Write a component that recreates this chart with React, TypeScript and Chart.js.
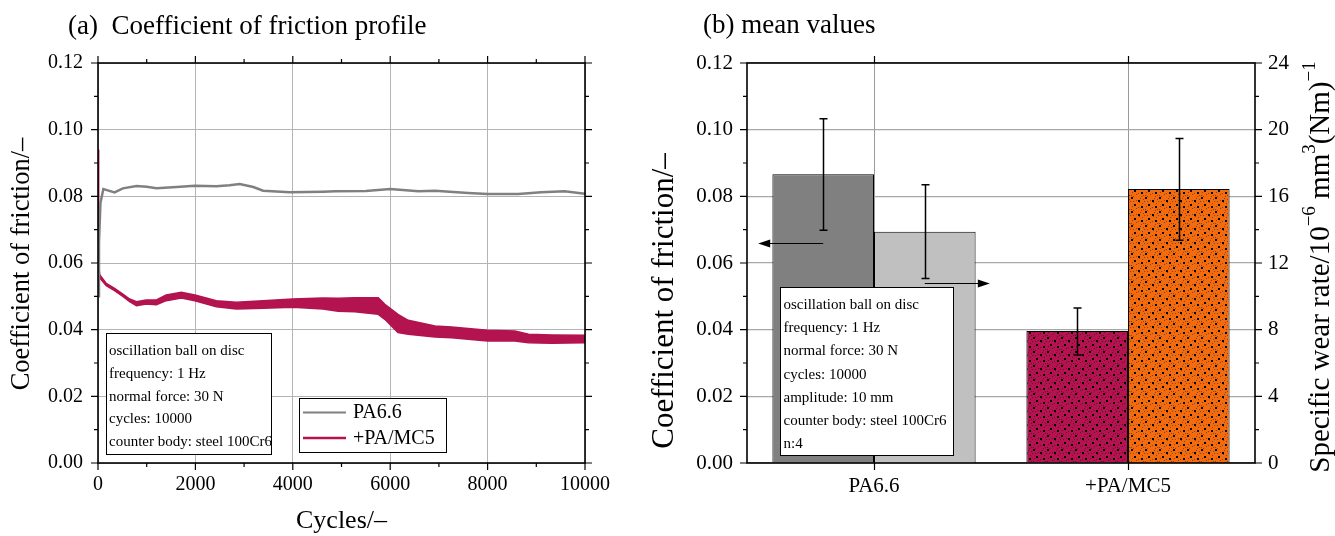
import React, { useEffect, useRef } from "react";
import { Chart, registerables } from "chart.js";

Chart.register(...registerables);

const SERIF = '"Liberation Serif", "Times New Roman", Times, serif';
const CRIMSON = "#b3134f";
const ORANGE = "#f26b0f";
const DARK_GRAY = "#808080";
const LIGHT_GRAY = "#c0c0c0";

// ---------- (a) Coefficient of friction profile ----------
const PA66_CYCLES = [0, 20, 50, 110, 200, 340, 510, 790, 1000, 1200, 1610, 1990, 2430, 2700, 2910, 3190, 3390, 3940, 4620, 4870, 5500, 6000, 6580, 6920, 7600, 8000, 8630, 9100, 9580, 10000];
const PA66_COF = [0.05, 0.066, 0.078, 0.0822, 0.0818, 0.0812, 0.0824, 0.0831, 0.0829, 0.0824, 0.0828, 0.0832, 0.083, 0.0833, 0.0837, 0.0828, 0.0817, 0.0812, 0.0814, 0.0815, 0.0816, 0.0822, 0.0815, 0.0817, 0.081, 0.0807, 0.0807, 0.0812, 0.0815, 0.0808];

const MC5_CYCLES = [0, 10, 35, 170, 340, 510, 650, 790, 990, 1200, 1400, 1710, 1990, 2430, 2840, 3390, 4000, 4620, 4930, 5275, 5755, 5890, 6160, 6370, 6920, 7260, 8000, 8560, 8840, 9320, 10000];
const MC5_COF_UPPER = [0.094, 0.06, 0.0565, 0.0539, 0.0524, 0.0507, 0.0492, 0.0484, 0.0489, 0.0489, 0.0504, 0.0512, 0.0504, 0.0487, 0.0482, 0.0487, 0.0492, 0.0495, 0.0494, 0.0496, 0.0496, 0.0476, 0.0446, 0.0428, 0.0411, 0.0408, 0.0398, 0.0396, 0.0386, 0.0384, 0.0383];
const MC5_COF_LOWER = [0.094, 0.059, 0.0555, 0.0532, 0.0517, 0.05, 0.0484, 0.0472, 0.0477, 0.0475, 0.0487, 0.0495, 0.0487, 0.0469, 0.0462, 0.0464, 0.0467, 0.0462, 0.0455, 0.0454, 0.0446, 0.0431, 0.0391, 0.0386, 0.0378, 0.0376, 0.0366, 0.0366, 0.0361, 0.0359, 0.0361];

const CYCLE_TICKS = [0, 2000, 4000, 6000, 8000, 10000];
const COF_TICKS = [0, 0.02, 0.04, 0.06, 0.08, 0.1, 0.12];
const SERIES_NAMES = ["PA6.6", "+PA/MC5"];

const INFO_A = ["oscillation ball on disc", "frequency: 1 Hz", "normal force: 30 N", "cycles: 10000", "counter body: steel 100Cr6"];

// ---------- (b) mean values ----------
const MATERIALS = ["PA6.6", "+PA/MC5"];
const COF_MEAN = [0.0866, 0.0396];
const COF_LOW = [0.0698, 0.0324];
const COF_HIGH = [0.1033, 0.0465];
const WEAR_MEAN = [13.88, 16.44];
const WEAR_LOW = [11.07, 13.36];
const WEAR_HIGH = [16.7, 19.47];
const WEAR_TICKS = [0, 4, 8, 12, 16, 20, 24];
const ARROW_COF_AT = 0.066;
const ARROW_WEAR_AT = 10.8;

const INFO_B = ["oscillation ball on disc", "frequency: 1 Hz", "normal force: 30 N", "cycles: 10000", "amplitude: 10 mm", "counter body: steel 100Cr6", "n:4"];

function makePattern(ctx: CanvasRenderingContext2D, base: string) {
  const c = document.createElement("canvas");
  c.width = 14;
  c.height = 14;
  const g = c.getContext("2d")!;
  g.fillStyle = base;
  g.fillRect(0, 0, 14, 14);
  g.fillStyle = "rgba(0,0,0,0.4)";
  const speck = [[3, 0], [10, 2], [0, 5], [6, 4], [12, 7], [2, 10], [8, 11], [5, 8], [13, 13], [9, 6], [1, 13], [11, 0], [6, 12], [13, 3], [3, 5]];
  speck.forEach(([x, y]) => g.fillRect(x, y, 1, 1));
  g.fillStyle = "#000";
  [[1, 1], [8, 4], [4, 8], [11, 10]].forEach(([x, y]) => g.fillRect(x, y, 2, 2));
  return ctx.createPattern(c, "repeat")!;
}

function rotatedText(ctx: CanvasRenderingContext2D, text: string, x: number, y: number, font: string) {
  ctx.save();
  ctx.translate(x, y);
  ctx.rotate(-Math.PI / 2);
  ctx.font = font;
  ctx.textAlign = "center";
  ctx.textBaseline = "middle";
  ctx.fillText(text, 0, 0);
  ctx.restore();
}

function rotatedRich(ctx: CanvasRenderingContext2D, segs: [string, boolean][], x: number, y: number, size: number) {
  const big = `${size}px ${SERIF}`;
  const small = `${Math.round(size * 0.66)}px ${SERIF}`;
  ctx.save();
  ctx.translate(x, y);
  ctx.rotate(-Math.PI / 2);
  ctx.textBaseline = "middle";
  ctx.textAlign = "left";
  let total = 0;
  segs.forEach(([t, sup]) => {
    ctx.font = sup ? small : big;
    total += ctx.measureText(t).width;
  });
  let cx = -total / 2;
  segs.forEach(([t, sup]) => {
    ctx.font = sup ? small : big;
    ctx.fillText(t, cx, sup ? -size * 0.38 : 0);
    cx += ctx.measureText(t).width;
  });
  ctx.restore();
}

function drawArrow(ctx: CanvasRenderingContext2D, x1: number, x2: number, y: number) {
  const dir = x2 > x1 ? 1 : -1;
  ctx.beginPath();
  ctx.moveTo(x1, y);
  ctx.lineTo(x2 - dir * 8, y);
  ctx.stroke();
  ctx.beginPath();
  ctx.moveTo(x2, y);
  ctx.lineTo(x2 - dir * 12, y - 4);
  ctx.lineTo(x2 - dir * 12, y + 4);
  ctx.closePath();
  ctx.fill();
}

function ProfileChart() {
  const ref = useRef<HTMLCanvasElement>(null);
  useEffect(() => {
    const canvas = ref.current!;
    const pts = (xs: number[], ys: number[]) => xs.map((x, i) => ({ x, y: ys[i] }));
    const decor = {
      id: "decorA",
      afterDraw(chart: any) {
        const { ctx, chartArea: a, scales } = chart;
        const xs = scales.x;
        const ys = scales.y;
        ctx.save();
        ctx.strokeStyle = "#000";
        ctx.fillStyle = "#000";
        ctx.lineWidth = 1.2;
        ctx.beginPath();
        for (let i = 0; i <= 12; i++) {
          const y = ys.getPixelForValue(i * 0.01);
          const len = i % 2 === 0 ? 7 : 4;
          ctx.moveTo(a.left - len, y);
          ctx.lineTo(a.left, y);
          ctx.moveTo(a.right, y);
          ctx.lineTo(a.right + len, y);
        }
        for (let i = 0; i <= 10; i++) {
          const x = xs.getPixelForValue(i * 1000);
          const len = i % 2 === 0 ? 7 : 4;
          ctx.moveTo(x, a.bottom);
          ctx.lineTo(x, a.bottom + len);
          ctx.moveTo(x, a.top - len);
          ctx.lineTo(x, a.top);
        }
        ctx.stroke();
        ctx.lineWidth = 1.6;
        ctx.strokeRect(a.left, a.top, a.right - a.left, a.bottom - a.top);

        // info box
        ctx.lineWidth = 1;
        ctx.fillStyle = "#fff";
        ctx.fillRect(106, 333, 165, 121);
        ctx.strokeRect(106.5, 333.5, 165, 121);
        ctx.fillStyle = "#000";
        ctx.font = `15px ${SERIF}`;
        ctx.textAlign = "left";
        ctx.textBaseline = "middle";
        INFO_A.forEach((t, i) => ctx.fillText(t, 109, 351 + i * 22.8));

        // legend
        ctx.fillStyle = "#fff";
        ctx.fillRect(299, 398, 147, 54);
        ctx.strokeRect(299.5, 398.5, 147, 54);
        ctx.lineWidth = 2;
        ctx.strokeStyle = DARK_GRAY;
        ctx.beginPath();
        ctx.moveTo(303, 412.5);
        ctx.lineTo(346, 412.5);
        ctx.stroke();
        ctx.lineWidth = 2.5;
        ctx.strokeStyle = CRIMSON;
        ctx.beginPath();
        ctx.moveTo(303, 438);
        ctx.lineTo(346, 438);
        ctx.stroke();
        ctx.fillStyle = "#000";
        ctx.font = `20px ${SERIF}`;
        ctx.fillText(SERIES_NAMES[0], 353, 413);
        ctx.fillText(SERIES_NAMES[1], 353, 438.5);

        // titles
        ctx.font = `27px ${SERIF}`;
        ctx.fillText("(a)  Coefficient of friction profile", 68, 27);
        ctx.font = `26px ${SERIF}`;
        ctx.textAlign = "center";
        ctx.fillText("Cycles/\u2013", (a.left + a.right) / 2, 521);
        rotatedText(ctx, "Coefficient of friction/\u2013", 22, 264, `26.5px ${SERIF}`);
        ctx.restore();
      },
    };
    const chart = new Chart(canvas, {
      type: "line",
      data: {
        datasets: [
          {
            label: SERIES_NAMES[0],
            data: pts(PA66_CYCLES, PA66_COF),
            borderColor: DARK_GRAY,
            borderWidth: 2.5,
            pointRadius: 0,
            fill: false,
            tension: 0,
          },
          {
            label: SERIES_NAMES[1],
            data: pts(MC5_CYCLES, MC5_COF_UPPER),
            borderColor: CRIMSON,
            backgroundColor: CRIMSON,
            borderWidth: 1.5,
            pointRadius: 0,
            fill: "+1",
            tension: 0,
          },
          {
            label: SERIES_NAMES[1] + " lower",
            data: pts(MC5_CYCLES, MC5_COF_LOWER),
            borderColor: CRIMSON,
            borderWidth: 1.5,
            pointRadius: 0,
            fill: false,
            tension: 0,
          },
        ],
      },
      options: {
        animation: false,
        responsive: false,
        events: [],
        layout: { padding: { left: 0, top: 63, right: 55, bottom: 0 } },
        plugins: { legend: { display: false }, tooltip: { enabled: false } },
        scales: {
          x: {
            type: "linear",
            min: 0,
            max: 10000,
            afterBuildTicks: (s: any) => {
              s.ticks = CYCLE_TICKS.map((v) => ({ value: v }));
            },
            afterFit: (s: any) => {
              s.height = 73;
            },
            grid: { color: "#b4b4b4", lineWidth: 1, drawTicks: false },
            border: { display: false },
            ticks: { color: "#000", font: { family: SERIF, size: 20 }, padding: 10, maxRotation: 0, callback: (v: any) => String(v) },
          },
          y: {
            min: 0,
            max: 0.12,
            afterBuildTicks: (s: any) => {
              s.ticks = COF_TICKS.map((v) => ({ value: v }));
            },
            afterFit: (s: any) => {
              s.width = 98;
            },
            grid: { color: "#b4b4b4", lineWidth: 1, drawTicks: false },
            border: { display: false },
            ticks: { color: "#000", font: { family: SERIF, size: 20 }, padding: 15, callback: (v: any) => Number(v).toFixed(2) },
          },
        },
      },
      plugins: [decor],
    } as any);
    return () => chart.destroy();
  }, []);
  return <canvas ref={ref} width={640} height={536} style={{ position: "absolute", left: 0, top: 0 }} />;
}

function MeanChart() {
  const ref = useRef<HTMLCanvasElement>(null);
  useEffect(() => {
    const canvas = ref.current!;
    const ctx0 = canvas.getContext("2d")!;
    const redPat = makePattern(ctx0, CRIMSON);
    const orangePat = makePattern(ctx0, ORANGE);
    const decor = {
      id: "decorB",
      afterDatasetsDraw(chart: any) {
        const { ctx, scales } = chart;
        ctx.save();
        ctx.strokeStyle = "#000";
        ctx.fillStyle = "#000";
        ctx.lineWidth = 1.5;
        const sets: [number, string, number[], number[]][] = [
          [0, "y", COF_LOW, COF_HIGH],
          [1, "y1", WEAR_LOW, WEAR_HIGH],
        ];
        sets.forEach(([d, axis, lo, hi]) => {
          const meta = chart.getDatasetMeta(d);
          meta.data.forEach((el: any, i: number) => {
            const x = Math.round(el.x) + 0.5;
            const y1 = scales[axis].getPixelForValue(lo[i]);
            const y2 = scales[axis].getPixelForValue(hi[i]);
            ctx.beginPath();
            ctx.moveTo(x, y1);
            ctx.lineTo(x, y2);
            ctx.moveTo(x - 4, y1);
            ctx.lineTo(x + 4, y1);
            ctx.moveTo(x - 4, y2);
            ctx.lineTo(x + 4, y2);
            ctx.stroke();
          });
        });
        ctx.lineWidth = 1.2;
        const m0 = chart.getDatasetMeta(0).data[0];
        const m1 = chart.getDatasetMeta(1).data[0];
        const ya = Math.round(scales.y.getPixelForValue(ARROW_COF_AT)) + 0.5;
        drawArrow(ctx, m0.x, m0.x - 65, ya);
        const yb = Math.round(scales.y1.getPixelForValue(ARROW_WEAR_AT)) + 0.5;
        drawArrow(ctx, m1.x, m1.x + 65, yb);
        ctx.restore();
      },
      afterDraw(chart: any) {
        const { ctx, chartArea: a, scales } = chart;
        ctx.save();
        ctx.strokeStyle = "#000";
        ctx.fillStyle = "#000";
        ctx.lineWidth = 1.2;
        ctx.beginPath();
        for (let i = 0; i <= 12; i++) {
          const y = scales.y.getPixelForValue(i * 0.01);
          const len = i % 2 === 0 ? 7 : 4;
          ctx.moveTo(a.left - len, y);
          ctx.lineTo(a.left, y);
        }
        for (let i = 0; i <= 12; i++) {
          const y = scales.y1.getPixelForValue(i * 2);
          const len = i % 2 === 0 ? 7 : 4;
          ctx.moveTo(a.right, y);
          ctx.lineTo(a.right + len, y);
        }
        MATERIALS.forEach((_, i) => {
          const x = Math.round(scales.x.getPixelForValue(i)) + 0.5;
          ctx.moveTo(x, a.bottom);
          ctx.lineTo(x, a.bottom + 7);
          ctx.moveTo(x, a.top - 7);
          ctx.lineTo(x, a.top);
        });
        ctx.stroke();
        ctx.lineWidth = 1.6;
        ctx.strokeRect(a.left, a.top, a.right - a.left, a.bottom - a.top);

        // info box
        ctx.lineWidth = 1;
        ctx.fillStyle = "#fff";
        ctx.fillRect(140, 287, 173, 168);
        ctx.strokeRect(140.5, 287.5, 173, 168);
        ctx.fillStyle = "#000";
        ctx.font = `15px ${SERIF}`;
        ctx.textAlign = "left";
        ctx.textBaseline = "middle";
        INFO_B.forEach((t, i) => ctx.fillText(t, 143.5, 305 + i * 23.2));

        // titles
        ctx.font = `27px ${SERIF}`;
        ctx.fillText("(b) mean values", 63, 26);
        rotatedText(ctx, "Coefficient of friction/\u2013", 25, 301, `31px ${SERIF}`);
        rotatedRich(
          ctx,
          [
            ["Specific wear rate/10", false],
            ["\u22126", true],
            [" mm", false],
            ["3", true],
            ["(Nm)", false],
            ["\u22121", true],
          ],
          681,
          267,
          29
        );
        ctx.restore();
      },
    };
    const chart = new Chart(canvas, {
      type: "bar",
      data: {
        labels: MATERIALS,
        datasets: [
          {
            label: "Coefficient of friction",
            data: COF_MEAN,
            yAxisID: "y",
            backgroundColor: [DARK_GRAY, redPat],
            borderColor: "#000",
            borderWidth: 1,
            categoryPercentage: 0.8,
            barPercentage: 1,
          },
          {
            label: "Specific wear rate",
            data: WEAR_MEAN,
            yAxisID: "y1",
            backgroundColor: [LIGHT_GRAY, orangePat],
            borderColor: "#000",
            borderWidth: 1,
            categoryPercentage: 0.8,
            barPercentage: 1,
          },
        ],
      },
      options: {
        animation: false,
        responsive: false,
        events: [],
        layout: { padding: { left: 0, top: 63, right: 0, bottom: 0 } },
        plugins: { legend: { display: false }, tooltip: { enabled: false } },
        scales: {
          x: {
            afterFit: (s: any) => {
              s.height = 73;
            },
            grid: { offset: false, color: "#9a9a9a", lineWidth: 1, drawTicks: false },
            border: { display: false },
            ticks: { color: "#000", font: { family: SERIF, size: 21 }, padding: 11 },
          },
          y: {
            position: "left",
            min: 0,
            max: 0.12,
            afterBuildTicks: (s: any) => {
              s.ticks = COF_TICKS.map((v) => ({ value: v }));
            },
            afterFit: (s: any) => {
              s.width = 107;
            },
            grid: { color: "#a8a8a8", lineWidth: 1.2, drawTicks: false },
            border: { display: false },
            ticks: { color: "#000", font: { family: SERIF, size: 21 }, padding: 14, callback: (v: any) => Number(v).toFixed(2) },
          },
          y1: {
            position: "right",
            min: 0,
            max: 24,
            afterBuildTicks: (s: any) => {
              s.ticks = WEAR_TICKS.map((v) => ({ value: v }));
            },
            afterFit: (s: any) => {
              s.width = 80;
            },
            grid: { display: false, drawTicks: false },
            border: { display: false },
            ticks: { color: "#000", font: { family: SERIF, size: 21 }, padding: 13, callback: (v: any) => String(v) },
          },
        },
      },
      plugins: [decor],
    } as any);
    return () => chart.destroy();
  }, []);
  return <canvas ref={ref} width={695} height={536} style={{ position: "absolute", left: 640, top: 0 }} />;
}

export default function App() {
  return (
    <div style={{ position: "absolute", left: 0, top: 0, width: 1335, height: 536, background: "#fff" }}>
      <ProfileChart />
      <MeanChart />
    </div>
  );
}
